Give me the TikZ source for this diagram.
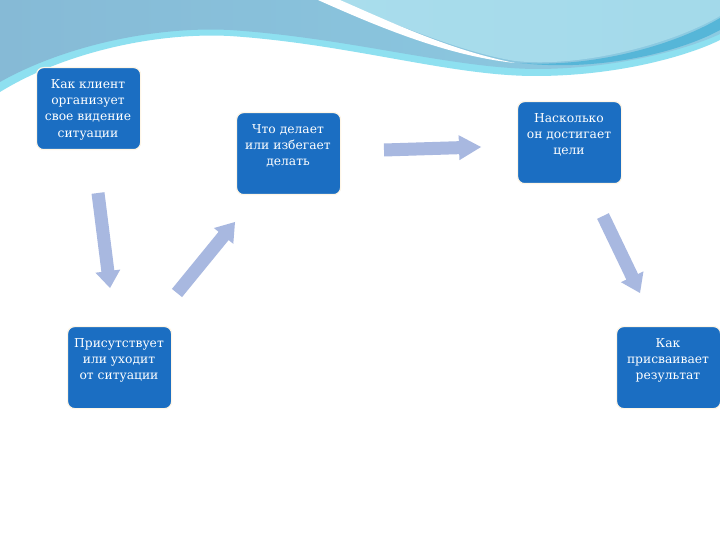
\documentclass[tikz,border=0pt]{standalone}
\usepackage{fontspec}
\setmainfont{DejaVu Serif}
\usetikzlibrary{calc}
\definecolor{boxblue}{HTML}{1B6EC2}
\definecolor{boxedge}{HTML}{FFF6E6}
\definecolor{arrowblue}{HTML}{A8B8E0}
\definecolor{waveleft}{HTML}{86BAD6}
\definecolor{waveright}{HTML}{8CCBE2}
\definecolor{wavecyan}{HTML}{5ED3EA}
\definecolor{wavelight}{HTML}{A9DDEC}
\definecolor{waveband}{HTML}{56B6D8}
\tikzset{
  stepbox/.style={draw=boxedge, line width=1.2pt, fill=boxblue, rounded corners=7pt,
    minimum width=104pt, minimum height=82pt, inner sep=0pt, anchor=north west},
  boxtext/.style={text=white, align=center, font=\fontsize{12.3}{16.3}\selectfont,
    anchor=north, inner sep=0pt},
}
\newcommand{\blockarr}[5]{%
  \coordinate (hb) at ($(#2)!#5!(#1)$);
  \fill[arrowblue] ($(#1)!#3!90:(#2)$) -- ($(hb)!#3!90:(#2)$) -- ($(hb)!#4!90:(#2)$)
    -- (#2) -- ($(hb)!#4!-90:(#2)$) -- ($(hb)!#3!-90:(#2)$) -- ($(#1)!#3!-90:(#2)$) -- cycle;}
\begin{document}
\begin{tikzpicture}[x=1pt,y=-1pt]
\useasboundingbox (0,0) rectangle (720,540);
\fill[white] (0,0) rectangle (720,540);
% background wave
\fill[wavecyan!70!white] (0,0) -- (0,92) .. controls (60,55) and (150,32) .. (230,36)
  .. controls (350,44) and (450,76) .. (535,76) .. controls (620,76) and (690,55) .. (720,40) -- (720,0) -- cycle;
\shade[left color=waveleft, right color=waveright] (0,0) -- (0,82) .. controls (60,48) and (150,26) .. (230,30)
  .. controls (350,38) and (450,68) .. (535,69) .. controls (620,69) and (690,48) .. (720,34) -- (720,0) -- cycle;
\fill[waveband] (520,63) .. controls (600,68) and (680,42) .. (720,18) -- (720,30)
  .. controls (680,52) and (600,72) .. (520,63) -- cycle;
\shade[left color=wavelight, right color=wavelight!80!waveright] (332,0) .. controls (400,25) and (460,52) .. (515,61)
  .. controls (580,68) and (670,45) .. (720,16) -- (720,0) -- cycle;
\fill[white] (318,0) .. controls (385,30) and (450,56) .. (515,63)
  .. controls (450,50) and (395,24) .. (340,0) -- cycle;
% boxes
\node[stepbox] (b1) at (36,67) {};
\node[stepbox] (b2) at (236,112) {};
\node[stepbox] (b3) at (517,101) {};
\node[stepbox] (b4) at (67,326) {};
\node[stepbox] (b5) at (616,326) {};
\node[boxtext] (t1) at (88,79) {Как клиент\\организует\\свое видение\\ситуации};
\node[boxtext] (t2) at (288,124) {Что делает\\или избегает\\делать};
\node[boxtext] (t3) at (569,113) {Насколько\\он достигает\\цели};
\node[boxtext] (t4) at (119,338) {Присутствует\\или уходит\\от ситуации};
\node[boxtext] (t5) at (668,338) {Как\\присваивает\\результат};
% arrows
\coordinate (a1s) at (98,193);  \coordinate (a1e) at (110,288);
\coordinate (a2s) at (177,293); \coordinate (a2e) at (235,222);
\coordinate (a3s) at (384,150); \coordinate (a3e) at (481,147);
\coordinate (a4s) at (603,216); \coordinate (a4e) at (640,293);
\blockarr{a1s}{a1e}{6.5pt}{12.5pt}{17pt}
\blockarr{a2s}{a2e}{6.5pt}{12.5pt}{18pt}
\blockarr{a3s}{a3e}{6.5pt}{12.5pt}{22pt}
\blockarr{a4s}{a4e}{6.5pt}{12.5pt}{18pt}
\end{tikzpicture}
\end{document}
